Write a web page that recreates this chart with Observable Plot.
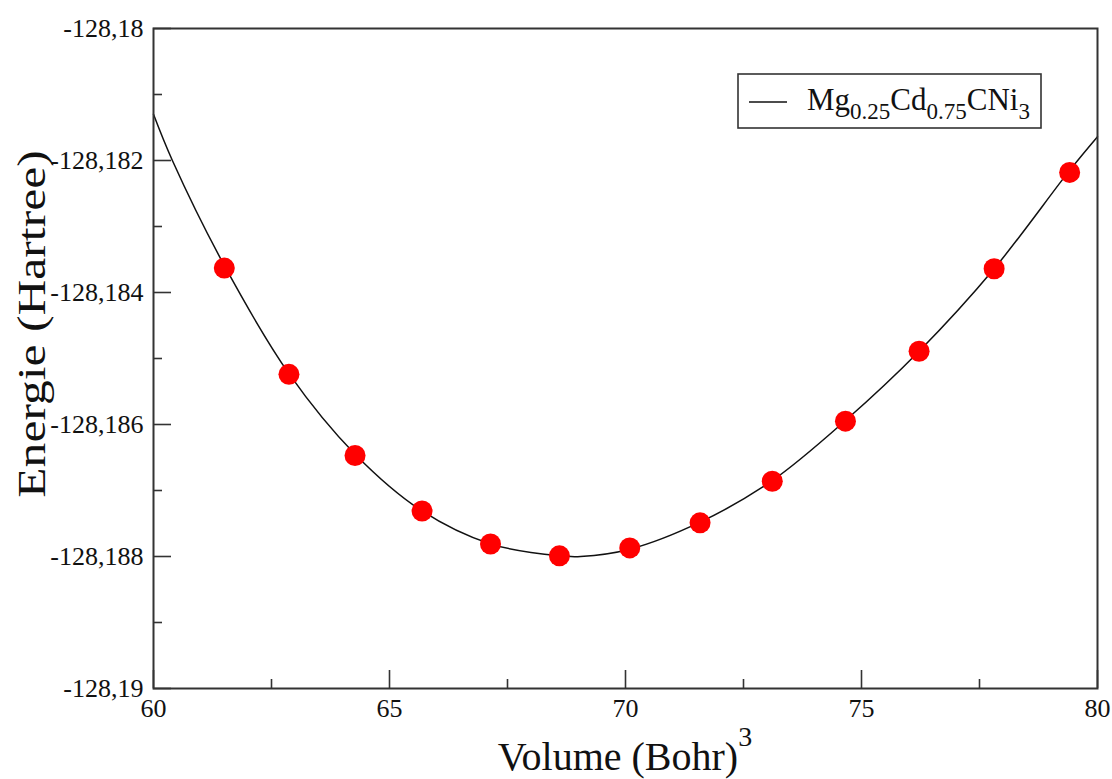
<!DOCTYPE html>
<html>
<head>
<meta charset="utf-8">
<script src="https://cdn.jsdelivr.net/npm/d3@7"></script>
<script src="https://cdn.jsdelivr.net/npm/@observablehq/plot@0.6"></script>
<style>
  html, body { margin: 0; padding: 0; background: #fff; }
  #chart svg { display: block; }
</style>
</head>
<body>
<div id="chart"></div>
<script>
// Calculated points (volume in Bohr^3, energy in Hartree)
const volumes = [61.50, 62.87, 64.27, 65.69, 67.14, 68.60, 70.09, 71.58, 73.11, 74.66, 76.22, 77.81, 79.41];
const energies = [-128.18363, -128.18524, -128.18647, -128.18731, -128.18781, -128.18799, -128.18787,
                  -128.18749, -128.18686, -128.18595, -128.18489, -128.18364, -128.18218];

// Fitted curve
const fitVolumes = [60.00, 60.40, 61.50, 62.87, 64.27, 65.69, 67.14, 68.60, 69.05, 70.09, 71.58, 73.11, 74.66, 76.22, 77.81, 79.41, 80.00];
const fitEnergies = [-128.18130, -128.18200, -128.18359, -128.18523, -128.18645, -128.18731, -128.18781, -128.18799,
                     -128.18800, -128.18789, -128.18748, -128.18685, -128.18594, -128.18489, -128.18364, -128.18215, -128.18164];

// Axis ticks and labels
const xMajor = [60, 65, 70, 75, 80];
const xMajorLabels = ["60", "65", "70", "75", "80"];
const xMinor = [62.5, 67.5, 72.5, 77.5];
const yMajor = [-128.18, -128.182, -128.184, -128.186, -128.188, -128.19];
const yMajorLabels = ["-128,18", "-128,182", "-128,184", "-128,186", "-128,188", "-128,19"];
const yMinor = [-128.181, -128.183, -128.185, -128.187, -128.189];

const seriesName = [["Mg", null], ["0.25", "sub"], ["Cd", null], ["0.75", "sub"], ["CNi", null], ["3", "sub"]];
const xTitle = "Volume (Bohr)";
const xTitleSup = "3";
const yTitle = "Energie (Hartree)";

const curve = fitVolumes.map((v, i) => ({v, e: fitEnergies[i]}));
const points = volumes.map((v, i) => ({v, e: energies[i]}));

const axisColor = "#333";
const font = "Liberation Serif";

const plot = Plot.plot({
  width: 1112,
  height: 779,
  marginLeft: 153,
  marginRight: 15,
  marginTop: 28,
  marginBottom: 91,
  x: {domain: [60, 80]},
  y: {domain: [-128.19, -128.18]},
  style: {fontFamily: font, fontSize: "26px", color: "#111", background: "#fff", overflow: "visible"},
  marks: [
    Plot.axisX({ticks: xMajor, tickSize: -18, fill: "none", label: null, stroke: axisColor, strokeWidth: 1.6}),
    Plot.axisX({ticks: xMinor, tickSize: -9, fill: "none", label: null, stroke: axisColor, strokeWidth: 1.6}),
    Plot.axisX({ticks: xMajor, tickSize: 0, tickPadding: 10, label: null, fontSize: 26, fontFamily: font, fill: "#111",
                tickFormat: (d) => xMajorLabels[xMajor.indexOf(d)]}),
    Plot.axisY({ticks: yMajor, tickSize: -18, fill: "none", label: null, stroke: axisColor, strokeWidth: 1.6}),
    Plot.axisY({ticks: yMinor, tickSize: -9, fill: "none", label: null, stroke: axisColor, strokeWidth: 1.6}),
    Plot.axisY({ticks: yMajor, tickSize: 0, tickPadding: 10, label: null, fontSize: 26, fontFamily: font, fill: "#111",
                tickFormat: (d) => yMajorLabels[yMajor.findIndex(t => Math.abs(t - d) < 1e-9)]}),
    Plot.line(curve, {x: "v", y: "e", curve: "catmull-rom", stroke: "#111", strokeWidth: 1.5}),
    Plot.dot(points, {x: "v", y: "e", r: 10.5, fill: "#ff0000", stroke: "none"}),
    Plot.frame({stroke: axisColor, strokeWidth: 2})
  ]
});

document.getElementById("chart").appendChild(plot);

const svg = d3.select(plot);
svg.selectAll("text").attr("font-family", font);

// X axis title with superscript
const xt = svg.append("text")
  .attr("x", 625).attr("y", 770)
  .attr("text-anchor", "middle")
  .attr("font-family", font).attr("font-size", 40).attr("fill", "#111");
xt.append("tspan").text(xTitle);
xt.append("tspan").attr("dy", -24).attr("font-size", 28).text(xTitleSup);

// Y axis title
svg.append("text")
  .attr("transform", "translate(45,324) rotate(-90) scale(1.24,1)")
  .attr("text-anchor", "middle")
  .attr("font-family", font).attr("font-size", 40).attr("fill", "#111")
  .text(yTitle);

// Legend
const lg = svg.append("g");
lg.append("rect").attr("x", 738).attr("y", 74).attr("width", 303).attr("height", 54)
  .attr("fill", "#fff").attr("stroke", axisColor).attr("stroke-width", 1.6);
lg.append("line").attr("x1", 749).attr("x2", 787).attr("y1", 102).attr("y2", 102)
  .attr("stroke", "#111").attr("stroke-width", 1.5);
const lt = lg.append("text").attr("x", 807).attr("y", 110)
  .attr("text-anchor", "start")
  .attr("font-family", font).attr("font-size", 31).attr("fill", "#111");
let prevSub = false;
for (const [s, kind] of seriesName) {
  const ts = lt.append("tspan").text(s);
  if (kind === "sub") {
    ts.attr("font-size", 23).attr("dy", prevSub ? 0 : 9);
    prevSub = true;
  } else {
    if (prevSub) ts.attr("dy", -9);
    prevSub = false;
  }
}
</script>
</body>
</html>
